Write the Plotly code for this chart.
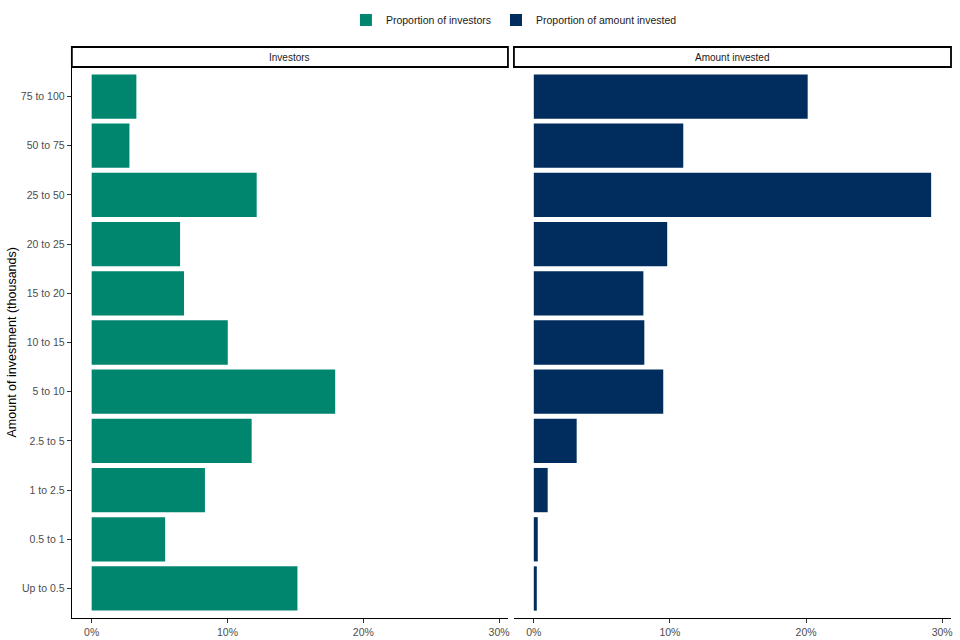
import plotly.graph_objects as go

categories = ["Up to 0.5", "0.5 to 1", "1 to 2.5", "2.5 to 5", "5 to 10", "10 to 15",
              "15 to 20", "20 to 25", "25 to 50", "50 to 75", "75 to 100"]
investors_pct = [15.15, 5.41, 8.34, 11.78, 17.93, 10.02, 6.80, 6.51, 12.15, 2.78, 3.29]
amount_pct = [0.22, 0.29, 1.02, 3.15, 9.51, 8.12, 8.05, 9.80, 29.19, 10.98, 20.12]
panel_titles = ["Investors", "Amount invested"]
series_names = ["Proportion of investors", "Proportion of amount invested"]
x_ticks = [0, 10, 20, 30]
x_tick_labels = ["0%", "10%", "20%", "30%"]

GREEN = "#00856F"
NAVY = "#002D5D"
FONT = "Liberation Sans, Arial, sans-serif"
W, H = 960, 640

def px_x(p):
    return p / W

def px_y(p):
    return 1 - p / H

fig = go.Figure()
fig.add_trace(go.Bar(y=categories, x=investors_pct, orientation="h", name=series_names[0],
                     marker=dict(color=GREEN, line=dict(width=0)), xaxis="x", yaxis="y"))
fig.add_trace(go.Bar(y=categories, x=amount_pct, orientation="h", name=series_names[1],
                     marker=dict(color=NAVY, line=dict(width=0)), xaxis="x2", yaxis="y2"))

xmax = max(max(investors_pct), max(amount_pct))
xr = [-0.05 * xmax, xmax * 1.05]

left_dom = [px_x(72), px_x(509)]
right_dom = [px_x(515), px_x(953)]
y_dom = [px_y(618), px_y(67)]

tickfont = dict(family=FONT, size=10.5, color="#4D4D4D")
xcommon = dict(range=xr, tickvals=x_ticks, ticktext=x_tick_labels, showgrid=False,
               zeroline=False, showline=True, linecolor="black", linewidth=1.2,
               ticks="outside", ticklen=4, tickcolor="#333333", tickwidth=1,
               tickfont=tickfont, fixedrange=True)
ycommon = dict(type="category", categoryorder="array", categoryarray=categories,
               range=[-0.6, len(categories) - 0.4], showgrid=False, zeroline=False,
               fixedrange=True)

fig.update_layout(
    width=W, height=H,
    margin=dict(l=0, r=0, t=0, b=0),
    paper_bgcolor="white", plot_bgcolor="white",
    bargap=0.1,
    hovermode=False,
    font=dict(family=FONT, color="black"),
    xaxis=dict(domain=left_dom, anchor="y", **xcommon),
    xaxis2=dict(domain=right_dom, anchor="y2", **xcommon),
    yaxis=dict(domain=y_dom, anchor="x", showline=True, linecolor="black", linewidth=1.2,
               ticks="outside", ticklen=4, tickcolor="#333333", tickwidth=1,
               tickfont=tickfont, **ycommon),
    yaxis2=dict(domain=y_dom, anchor="x2", showline=False, showticklabels=False,
                ticks="", **ycommon),
    legend=dict(orientation="h", x=px_x(515), xanchor="center", y=px_y(20), yanchor="middle",
                font=dict(family=FONT, size=10.5, color="#1a1a1a"), bgcolor="rgba(0,0,0,0)",
                itemclick=False, itemdoubleclick=False),
)

# facet strips
strip_top, strip_bot = px_y(47), px_y(67)
for dom, title in zip([left_dom, right_dom], panel_titles):
    fig.add_shape(type="rect", xref="paper", yref="paper", x0=dom[0], x1=dom[1],
                  y0=strip_bot, y1=strip_top, line=dict(color="black", width=1.8),
                  fillcolor="white", layer="above")
    fig.add_annotation(xref="paper", yref="paper", x=(dom[0] + dom[1]) / 2,
                       y=(strip_top + strip_bot) / 2, text=title, showarrow=False,
                       font=dict(family=FONT, size=10, color="#1a1a1a"),
                       xanchor="center", yanchor="middle")

# y-axis title
fig.add_annotation(xref="paper", yref="paper", x=px_x(12), y=(y_dom[0] + y_dom[1]) / 2,
                   text="Amount of investment (thousands)", textangle=-90, showarrow=False,
                   font=dict(family=FONT, size=12.5, color="black"),
                   xanchor="center", yanchor="middle")

fig.write_html("out.html", config={"displayModeBar": False},
               post_script="document.body.style.margin='0';document.body.style.padding='0';")
